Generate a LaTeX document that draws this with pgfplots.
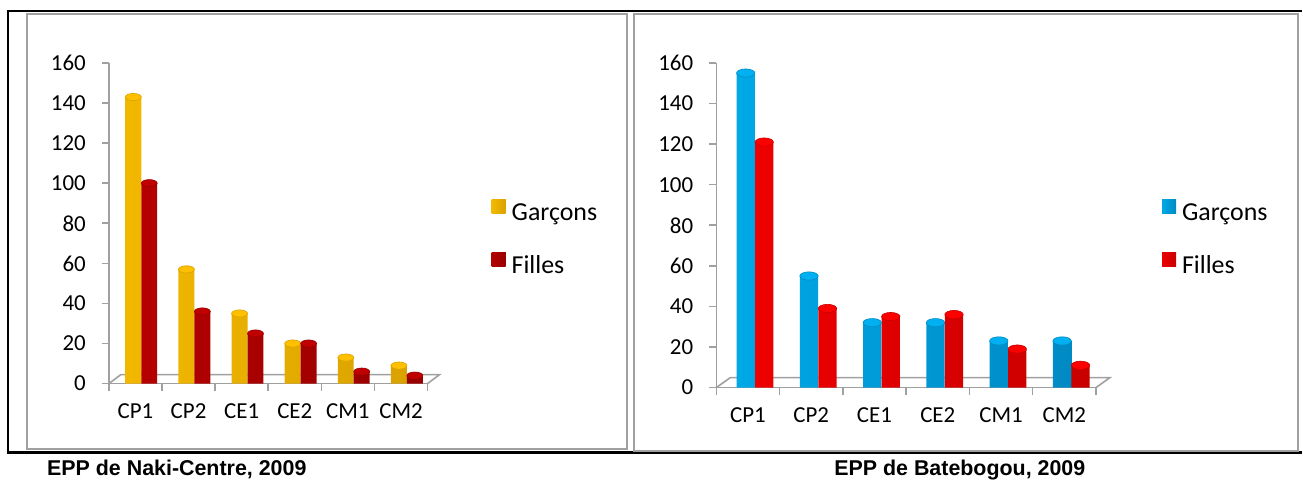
\documentclass[border=0pt]{standalone}
\usepackage{fontspec}
\setmainfont{Carlito}
\newfontfamily\arialfont{Liberation Sans}
\usepackage{pgfplots}
\pgfplotsset{compat=1.18}

\definecolor{goldL}{HTML}{F2B800}
\definecolor{goldM}{HTML}{FFD21A}
\definecolor{goldR}{HTML}{D9A200}
\definecolor{goldT}{HTML}{FFC000}
\definecolor{dredL}{HTML}{B40000}
\definecolor{dredM}{HTML}{D80000}
\definecolor{dredR}{HTML}{980000}
\definecolor{dredT}{HTML}{C00000}
\definecolor{blueL}{HTML}{00A8E6}
\definecolor{blueM}{HTML}{22C8FF}
\definecolor{blueR}{HTML}{008AC4}
\definecolor{blueT}{HTML}{00B0F0}
\definecolor{redL}{HTML}{EE0000}
\definecolor{redM}{HTML}{FF2020}
\definecolor{redR}{HTML}{C80000}
\definecolor{redT}{HTML}{FF0000}
\definecolor{axgray}{HTML}{A0A0A0}

\pgfplotsset{
 chart/.style={
  scale only axis,
  anchor=south west,
  xmin=-0.5, xmax=5.5, ymin=0, ymax=160,
  axis x line*=bottom, axis y line*=left,
  axis line style={axgray, line width=1.6bp},
  ytick={0,20,...,160},
  xtick={-0.5,0.5,...,5.5},
  xticklabels={},
  extra x ticks={0,1,2,3,4,5},
  extra x tick labels={CP1,CP2,CE1,CE2,CM1,CM2},
  extra x tick style={major tick length=0pt},
  major tick length=7bp,
  tick align=outside,
  tick style={axgray, line width=1.6bp},
  ticklabel style={font=\fontsize{23}{27}\selectfont, text=black},
  xticklabel style={inner sep=0pt, yshift=-20bp},
  yticklabel style={inner sep=0pt, xshift=-16bp},
  /pgf/number format/assume math mode=true,
  legend cell align=left,
  legend style={draw=none, fill=none, inner sep=0pt, row sep=27bp, column sep=6bp,
    font=\fontsize{26}{30}\selectfont,
    nodes={inner sep=0pt, text height=17bp, text depth=5bp}},
  clip=false,
 },
}

\begin{document}
\begin{tikzpicture}[x=1bp,y=1bp]
\path (0,0) rectangle (1303,481);
% frames
\draw[black, line width=2.6bp] (1303,470) -- (8,470) -- (8,28) -- (1303,28);
\draw[axgray, line width=2bp] (27,32) rectangle (628,467);
\draw[axgray, line width=2bp] (635,30) rectangle (1299,467);

% ---------- left chart ----------
\begin{axis}[chart, at={(109bp,97bp)}, width=319bp, height=321bp,
  legend style={at={(1.2006,0.575)}, anchor=north west}]
\draw[axgray, line width=1.6bp] (axis cs:-0.5,0) -- ([xshift=12bp,yshift=9bp]axis cs:-0.5,0)
   -- ([xshift=12bp,yshift=9bp]axis cs:5.5,0) -- (axis cs:5.5,0);
\addplot[ybar, bar width=0.3, bar shift=0pt, draw=none,
  left color=goldL, middle color=goldM, right color=goldR,
  legend image code/.code={\fill[goldT] (0bp,1bp) rectangle (14bp,15bp);}]
  coordinates {(-0.04,143) (0.96,57) (1.96,35) (2.96,20) (3.96,13) (4.96,9)};
\addlegendentry{Garçons}
\addplot[only marks, forget plot, mark=*, mark size=8bp,
  mark options={fill=goldT, draw=goldR, line width=0.6bp, yscale=0.45}]
  coordinates {(-0.04,143) (0.96,57) (1.96,35) (2.96,20) (3.96,13) (4.96,9)};
\addplot[ybar, bar width=0.3, bar shift=0pt, draw=none,
  left color=dredL, middle color=dredM, right color=dredR,
  legend image code/.code={\fill[dredT] (0bp,1bp) rectangle (14bp,15bp);}]
  coordinates {(0.26,100) (1.26,36) (2.26,25) (3.26,20) (4.26,6) (5.26,4)};
\addlegendentry{Filles}
\addplot[only marks, forget plot, mark=*, mark size=8bp,
  mark options={fill=dredT, draw=dredR, line width=0.6bp, yscale=0.45}]
  coordinates {(0.26,100) (1.26,36) (2.26,25) (3.26,20) (4.26,6) (5.26,4)};
\end{axis}

% ---------- right chart ----------
\begin{axis}[chart, at={(717bp,93bp)}, width=380bp, height=325bp,
  legend style={at={(1.1737,0.58)}, anchor=north west}]
\draw[axgray, line width=1.6bp] (axis cs:-0.5,0) -- ([xshift=14bp,yshift=10bp]axis cs:-0.5,0)
   -- ([xshift=14bp,yshift=10bp]axis cs:5.5,0) -- (axis cs:5.5,0);
\addplot[ybar, bar width=0.29, bar shift=0pt, draw=none,
  left color=blueL, middle color=blueM, right color=blueR,
  legend image code/.code={\fill[blueT] (0bp,1bp) rectangle (14bp,15bp);}]
  coordinates {(-0.035,155) (0.965,55) (1.965,32) (2.965,32) (3.965,23) (4.965,23)};
\addlegendentry{Garçons}
\addplot[only marks, forget plot, mark=*, mark size=9.2bp,
  mark options={fill=blueT, draw=blueR, line width=0.6bp, yscale=0.45}]
  coordinates {(-0.035,155) (0.965,55) (1.965,32) (2.965,32) (3.965,23) (4.965,23)};
\addplot[ybar, bar width=0.29, bar shift=0pt, draw=none,
  left color=redL, middle color=redM, right color=redR,
  legend image code/.code={\fill[redT] (0bp,1bp) rectangle (14bp,15bp);}]
  coordinates {(0.257,121) (1.257,39) (2.257,35) (3.257,36) (4.257,19) (5.257,11)};
\addlegendentry{Filles}
\addplot[only marks, forget plot, mark=*, mark size=9.2bp,
  mark options={fill=redT, draw=redR, line width=0.6bp, yscale=0.45}]
  coordinates {(0.257,121) (1.257,39) (2.257,35) (3.257,36) (4.257,19) (5.257,11)};
\end{axis}

% titles
\node[anchor=base west, inner sep=0pt, font=\arialfont\bfseries\fontsize{21.5}{24}\selectfont] at (47,5) {EPP de Naki-Centre, 2009};
\node[anchor=base west, inner sep=0pt, font=\arialfont\bfseries\fontsize{21.5}{24}\selectfont] at (835,5) {EPP de Batebogou, 2009};
\end{tikzpicture}
\end{document}
